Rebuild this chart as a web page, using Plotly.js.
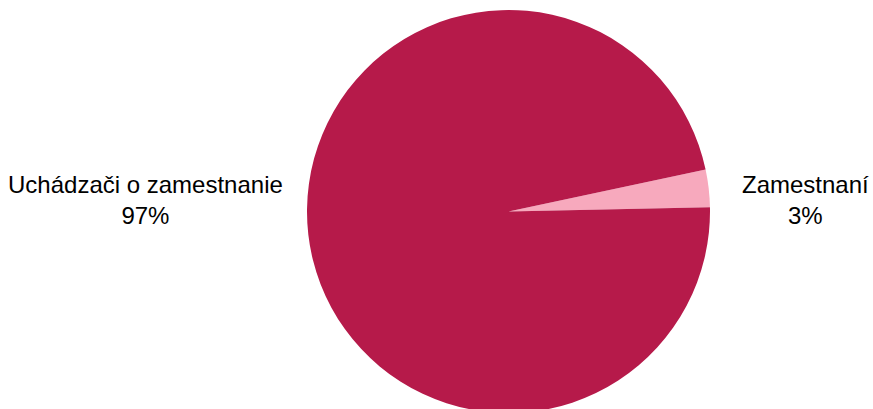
<!DOCTYPE html>
<html>
<head>
<meta charset="utf-8">
<script src="https://cdn.plot.ly/plotly-3.0.1.min.js"></script>
<style>html,body{margin:0;padding:0;overflow:hidden;background:#fff;}</style>
</head>
<body>
<div id="chart" style="width:873px;height:414px;"></div>
<script>
const categories = ["Zamestnaní", "Uchádzači o zamestnanie"];
const values = [3, 97];
const colors = ["#F7A9BD", "#B61A4A"];
const labelPos = [[805, 200], [145, 200]]; // pixel centres of outside labels

const W = 873, H = 414;
const total = values.reduce((a, b) => a + b, 0);
const annotations = categories.map((c, i) => ({
  text: c + "<br>" + Math.round(values[i] / total * 100) + "%",
  x: labelPos[i][0] / W,
  y: 1 - labelPos[i][1] / H,
  xref: "paper", yref: "paper",
  xanchor: "center", yanchor: "middle",
  showarrow: false,
  font: {family: "Liberation Sans, Arial, sans-serif", size: 24, color: "#000"}
}));

Plotly.newPlot("chart", [{
  type: "pie",
  labels: categories,
  values: values,
  marker: {colors: colors, line: {width: 0}},
  sort: false,
  direction: "counterclockwise",
  rotation: 78,
  textinfo: "none",
  hoverinfo: "label+percent",
  domain: {x: [307 / W, 710 / W], y: [1 / H, 404 / H]}
}], {
  width: W, height: H,
  margin: {l: 0, r: 0, t: 0, b: 0},
  showlegend: false,
  paper_bgcolor: "#fff",
  annotations: annotations
}, {displayModeBar: false, staticPlot: true});
</script>
</body>
</html>
